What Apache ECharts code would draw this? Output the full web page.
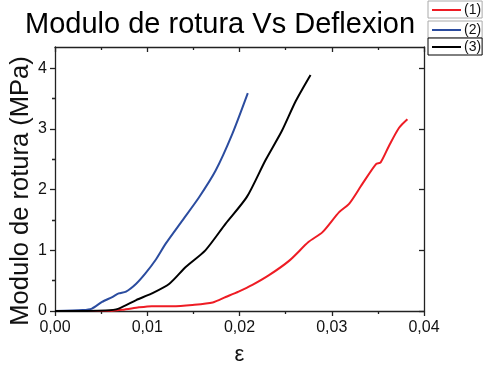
<!DOCTYPE html>
<html><head><meta charset="utf-8">
<script src="https://cdn.jsdelivr.net/npm/echarts@6/dist/echarts.min.js"></script>
<style>html,body{margin:0;padding:0;background:#fff}#c{width:484px;height:366px}</style>
</head><body><div id="c"></div>
<script>
const titleText = 'Modulo de rotura Vs Deflexion';
const xName = 'ε';
const yName = 'Modulo de rotura (MPa)';
const seriesNames = ['(1)', '(2)', '(3)'];

const x1 = [0, 0.0055, 0.0073, 0.0091, 0.0105, 0.0127, 0.0149, 0.0171, 0.0185, 0.0199, 0.0214, 0.0232, 0.0254, 0.0275, 0.0290, 0.0308, 0.0319, 0.0333, 0.0348, 0.0353, 0.0362, 0.0373, 0.0382];
const y1 = [0, 0.0, 0.02, 0.06, 0.08, 0.08, 0.10, 0.14, 0.23, 0.32, 0.43, 0.59, 0.83, 1.14, 1.30, 1.63, 1.77, 2.09, 2.42, 2.45, 2.72, 3.02, 3.16];

const x2 = [0, 0.0030, 0.0040, 0.0051, 0.0062, 0.0069, 0.0077, 0.0088, 0.0098, 0.0109, 0.0120, 0.0138, 0.0156, 0.0174, 0.0192, 0.0209];
const y2 = [0, 0.016, 0.04, 0.15, 0.23, 0.29, 0.32, 0.45, 0.62, 0.84, 1.11, 1.49, 1.87, 2.31, 2.91, 3.59];

const x3 = [0, 0.0055, 0.0069, 0.0088, 0.0105, 0.0124, 0.0142, 0.0163, 0.0185, 0.0208, 0.0228, 0.0246, 0.0261, 0.0277];
const y3 = [0, 0.01, 0.04, 0.18, 0.29, 0.45, 0.73, 1.00, 1.44, 1.88, 2.48, 2.97, 3.46, 3.89];

const xTicks = [0, 0.01, 0.02, 0.03, 0.04];
const yTicks = [0, 1, 2, 3, 4];
const yMinorTicks = [0.5, 1.5, 2.5, 3.5];

const colors = ['#ee1c24', '#2b4c9f', '#000000'];
const FONT = 'Liberation Sans, Arial, sans-serif';
const AX = '#222';

function pairs(xs, ys) { return xs.map((x, i) => [x, ys[i]]); }

const chart = echarts.init(document.getElementById('c'), null, {renderer: 'canvas'});

const yBase = {type: 'value', min: 0, max: 4.35, splitLine: {show: false}};
const xBase = {type: 'value', min: 0, max: 0.04, interval: 0.01, splitLine: {show: false}};

const legendBox = (i, top, border) => ({
  data: [seriesNames[i]], left: 428, top: top, orient: 'horizontal',
  padding: [2, 1, 1, 4], itemWidth: 29, itemHeight: 2, icon: 'rect',
  borderColor: border, borderWidth: 1, backgroundColor: '#fff',
  textStyle: {fontSize: 14, lineHeight: 13, fontFamily: FONT, color: '#111', padding: [0, 0, 0, -2]},
  selectedMode: false
});

chart.setOption({
  animation: false,
  backgroundColor: '#fff',
  title: {text: titleText, left: 20, top: 5, textStyle: {fontSize: 29, fontWeight: 'normal', color: '#000', fontFamily: FONT}},
  legend: [legendBox(0, 1, '#aaa'), legendBox(1, 21, '#aaa'), legendBox(2, 38, '#000')],
  grid: {left: 55, right: 60, top: 47, bottom: 55, containLabel: false, outerBoundsMode: 'none'},
  xAxis: [
    Object.assign({}, xBase, {
      position: 'bottom',
      axisLine: {show: true, onZero: false, lineStyle: {color: AX, width: 1.3}},
      axisTick: {show: true, inside: false, length: 5, lineStyle: {color: AX, width: 1.3}},
      minorTick: {show: true, splitNumber: 2, length: 3, lineStyle: {color: AX, width: 1.3}},
      axisLabel: {fontSize: 16, color: '#111', margin: 9, fontFamily: FONT,
        formatter: v => v.toFixed(2).replace('.', ',')},
      name: xName, nameLocation: 'middle', nameGap: 33, nameMoveOverlap: false,
      nameTextStyle: {fontSize: 22, color: '#111', fontFamily: FONT}
    }),
    Object.assign({}, xBase, {
      position: 'top',
      axisLine: {show: true, onZero: false, lineStyle: {color: AX, width: 1.3}},
      axisTick: {show: true, inside: true, length: 5, lineStyle: {color: AX, width: 1.3}},
      minorTick: {show: true, splitNumber: 2, length: 3, lineStyle: {color: AX, width: 1.3}},
      axisLabel: {show: false}
    })
  ],
  yAxis: [
    Object.assign({}, yBase, {
      position: 'left', interval: 1,
      axisLine: {show: true, onZero: false, lineStyle: {color: AX, width: 1.3}},
      axisTick: {show: true, inside: false, length: 5, customValues: yTicks, lineStyle: {color: AX, width: 1.3}},
      axisLabel: {fontSize: 16, color: '#111', margin: 8, fontFamily: FONT, customValues: yTicks,
        formatter: v => (Math.abs(v - Math.round(v)) < 1e-9 ? String(Math.round(v)) : '')},
      name: yName, nameLocation: 'middle', nameGap: 21, nameMoveOverlap: false,
      nameTextStyle: {fontSize: 25.5, color: '#111', fontFamily: FONT, padding: [0, 24, 0, 0]}
    }),
    Object.assign({}, yBase, {
      position: 'left', interval: 0.5,
      axisLine: {show: false},
      axisTick: {show: true, inside: false, length: 3, customValues: yMinorTicks, lineStyle: {color: AX, width: 1.3}},
      axisLabel: {show: false}
    }),
    Object.assign({}, yBase, {
      position: 'right', interval: 1,
      axisLine: {show: true, onZero: false, lineStyle: {color: AX, width: 1.3}},
      axisTick: {show: true, inside: true, length: 5, customValues: yTicks, lineStyle: {color: AX, width: 1.3}},
      axisLabel: {show: false}
    }),
    Object.assign({}, yBase, {
      position: 'right', interval: 0.5,
      axisLine: {show: false},
      axisTick: {show: true, inside: true, length: 3, customValues: yMinorTicks, lineStyle: {color: AX, width: 1.3}},
      axisLabel: {show: false}
    })
  ],
  series: [
    {name: seriesNames[0], type: 'line', data: pairs(x1, y1), smooth: 0.25, xAxisIndex: 0, yAxisIndex: 0, showSymbol: false, symbol: 'none', lineStyle: {width: 2, color: colors[0]}, itemStyle: {color: colors[0]}},
    {name: seriesNames[1], type: 'line', data: pairs(x2, y2), smooth: 0.25, xAxisIndex: 0, yAxisIndex: 0, showSymbol: false, symbol: 'none', lineStyle: {width: 2, color: colors[1]}, itemStyle: {color: colors[1]}},
    {name: seriesNames[2], type: 'line', data: pairs(x3, y3), smooth: 0.25, xAxisIndex: 0, yAxisIndex: 0, showSymbol: false, symbol: 'none', lineStyle: {width: 2, color: colors[2]}, itemStyle: {color: colors[2]}}
  ]
});
</script></body></html>
